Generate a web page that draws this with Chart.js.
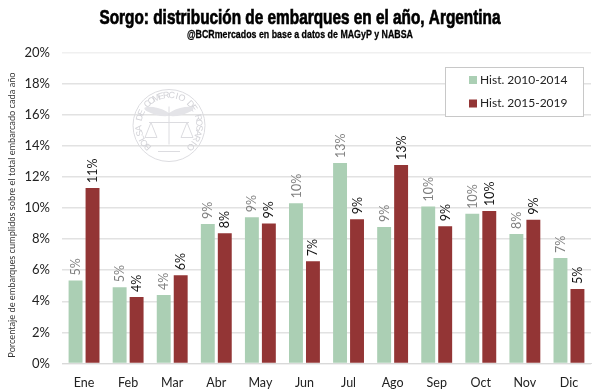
<!DOCTYPE html>
<html>
<head>
<meta charset="utf-8">
<script src="https://cdn.jsdelivr.net/npm/chart.js@4"></script>
<style>
  html, body { margin: 0; padding: 0; background: #fff; }
  #wrap { width: 600px; height: 392px; position: relative; }
  canvas { display: block; }
</style>
</head>
<body>
<div id="wrap"><canvas id="grafico" width="600" height="392"></canvas></div>
<script>
// Datos
const meses = ['Ene', 'Feb', 'Mar', 'Abr', 'May', 'Jun', 'Jul', 'Ago', 'Sep', 'Oct', 'Nov', 'Dic'];
const hist2010 = [5.34, 4.91, 4.40, 8.97, 9.40, 10.30, 12.90, 8.78, 10.10, 9.63, 8.33, 6.78];
const hist2015 = [11.29, 4.27, 5.67, 8.37, 9.01, 6.57, 9.27, 12.77, 8.82, 9.80, 9.25, 4.79];
const titulo = 'Sorgo: distribución de embarques en el año, Argentina';
const subtitulo = '@BCRmercados en base a datos de MAGyP y NABSA';
const sello = 'BOLSA DE COMERCIO DE ROSARIO';

// Texto angosto: la fuente condensada original no esta, se comprime a lo ancho
function textoAngosto(ctx, texto, font, cx, cy, ancho, grosor) {
    ctx.save();
    ctx.font = font;
    ctx.textAlign = 'center';
    ctx.textBaseline = 'middle';
    ctx.fillStyle = '#000';
    ctx.strokeStyle = '#000';
    ctx.lineWidth = grosor;
    ctx.translate(cx, cy);
    ctx.scale(ancho / ctx.measureText(texto).width, 1);
    ctx.fillText(texto, 0, 0);
    ctx.strokeText(texto, 0, 0);
    ctx.restore();
}

const encabezado = {
    id: 'encabezado',
    afterDraw(chart) {
        textoAngosto(chart.ctx, titulo, 'bold 19.5px "Liberation Sans"', 300, 18.5, 401, 0.7);
        textoAngosto(chart.ctx, subtitulo, 'bold 11.5px "Liberation Sans"', 300, 35, 226, 0.3);
    }
};

// Etiquetas rotadas sobre cada barra
const etiquetas = {
    id: 'etiquetas',
    afterDatasetsDraw(chart) {
        const ctx = chart.ctx;
        chart.data.datasets.forEach((ds, i) => {
            chart.getDatasetMeta(i).data.forEach((bar, j) => {
                ctx.save();
                ctx.translate(bar.x + 0.5, bar.y - 5);
                ctx.rotate(-Math.PI / 2);
                ctx.font = '12.5px Lato';
                ctx.fillStyle = i === 0 ? '#7f7f7f' : '#111111';
                ctx.textAlign = 'left';
                ctx.textBaseline = 'middle';
                ctx.fillText(Math.round(ds.data[j]) + '%', 0, 0);
                ctx.restore();
            });
        });
    }
};

// Leyenda en recuadro dentro del area del grafico
const leyenda = {
    id: 'leyenda',
    afterDraw(chart) {
        const ctx = chart.ctx;
        ctx.save();
        ctx.fillStyle = '#fff';
        ctx.strokeStyle = '#c8c8c8';
        ctx.lineWidth = 1;
        ctx.fillRect(445.5, 67.5, 138, 49);
        ctx.strokeRect(445.5, 67.5, 138, 49);
        ctx.font = '12px Lato';
        ctx.textBaseline = 'middle';
        chart.data.datasets.forEach((ds, i) => {
            const y = 80 + i * 23.5;
            ctx.fillStyle = ds.backgroundColor;
            ctx.fillRect(469, y - 4, 8, 8);
            ctx.fillStyle = '#222';
            ctx.fillText(ds.label, 480, y);
        });
        ctx.restore();
    }
};

// Marca de agua de la Bolsa, va detras de las barras
const marcaAgua = {
    id: 'marcaAgua',
    beforeDatasetsDraw(chart) {
        const ctx = chart.ctx;
        const cx = 169, cy = 125.5, r = 36;
        ctx.save();
        ctx.strokeStyle = '#dcdce0';
        ctx.fillStyle = '#d2d2d7';
        ctx.lineWidth = 1;
        ctx.beginPath();
        ctx.arc(cx, cy, r, 0, Math.PI * 2);
        ctx.stroke();
        ctx.font = '9px "Liberation Sans"';
        ctx.textAlign = 'center';
        ctx.textBaseline = 'middle';
        const paso = (Math.PI * 1.5) / (sello.length - 1);
        for (let k = 0; k < sello.length; k++) {
            const ang = -Math.PI / 2 - Math.PI * 0.75 + k * paso;
            ctx.save();
            ctx.translate(cx + Math.cos(ang) * (r - 6), cy + Math.sin(ang) * (r - 6));
            ctx.rotate(ang + Math.PI / 2);
            ctx.fillText(sello[k], 0, 0);
            ctx.restore();
        }
        // alas y caduceo
        ctx.fillStyle = '#e4e4e8';
        ctx.beginPath();
        ctx.ellipse(cx - 12, cy - 14, 13, 3.5, 0.25, 0, Math.PI * 2);
        ctx.ellipse(cx + 12, cy - 14, 13, 3.5, -0.25, 0, Math.PI * 2);
        ctx.fill();
        ctx.beginPath();
        ctx.moveTo(cx, cy - 19);
        ctx.lineTo(cx, cy + 19);
        ctx.moveTo(cx - 20, cy - 3);
        ctx.lineTo(cx + 20, cy - 3);
        // platillos de la balanza
        [-18, 18].forEach(d => {
            ctx.moveTo(cx + d, cy - 3);
            ctx.lineTo(cx + d - 6, cy + 12);
            ctx.lineTo(cx + d + 6, cy + 12);
            ctx.closePath();
        });
        ctx.moveTo(cx - 11, cy + 26);
        ctx.lineTo(cx + 11, cy + 26);
        ctx.stroke();
        ctx.restore();
    }
};

new Chart(document.getElementById('grafico').getContext('2d'), {
    type: 'bar',
    data: {
        labels: meses,
        datasets: [
            { label: 'Hist. 2010-2014', data: hist2010, backgroundColor: '#abcfb4' },
            { label: 'Hist. 2015-2019', data: hist2015, backgroundColor: '#933535' }
        ]
    },
    plugins: [marcaAgua, etiquetas, leyenda, encabezado],
    options: {
        responsive: false,
        animation: false,
        layout: { padding: { top: 52.5, right: 9, bottom: 0, left: 0 } },
        datasets: { bar: { categoryPercentage: 0.77, barPercentage: 0.82 } },
        scales: {
            x: {
                afterFit(scale) { scale.height = 28.5; },
                grid: { display: false },
                border: { color: '#d9d9d9' },
                ticks: { color: '#222', font: { family: 'Lato', size: 12.5 }, maxRotation: 0, padding: 4 }
            },
            y: {
                min: 0,
                max: 20,
                afterFit(scale) { scale.width = 62; },
                grid: {
                    color: c => c.tick.value === 20 ? '#f0f0f0' : '#e2e2e2',
                    drawTicks: false,
                    lineWidth: 1.5
                },
                border: { display: false },
                title: {
                    display: true,
                    // los espacios del final bajan el texto, en el original no esta centrado
                    text: 'Porcentaje de embarques cumplidos sobre el total embarcado cada año      ',
                    color: '#333',
                    font: { family: 'Lato', size: 9.2 },
                    padding: { top: 7, bottom: 0 }
                },
                ticks: {
                    stepSize: 2,
                    color: '#222',
                    padding: 12,
                    font: { family: 'Lato', size: 13 },
                    callback: v => v + '%'
                }
            }
        },
        plugins: {
            title: { display: false },
            legend: { display: false }
        }
    }
});
</script>
</body>
</html>
